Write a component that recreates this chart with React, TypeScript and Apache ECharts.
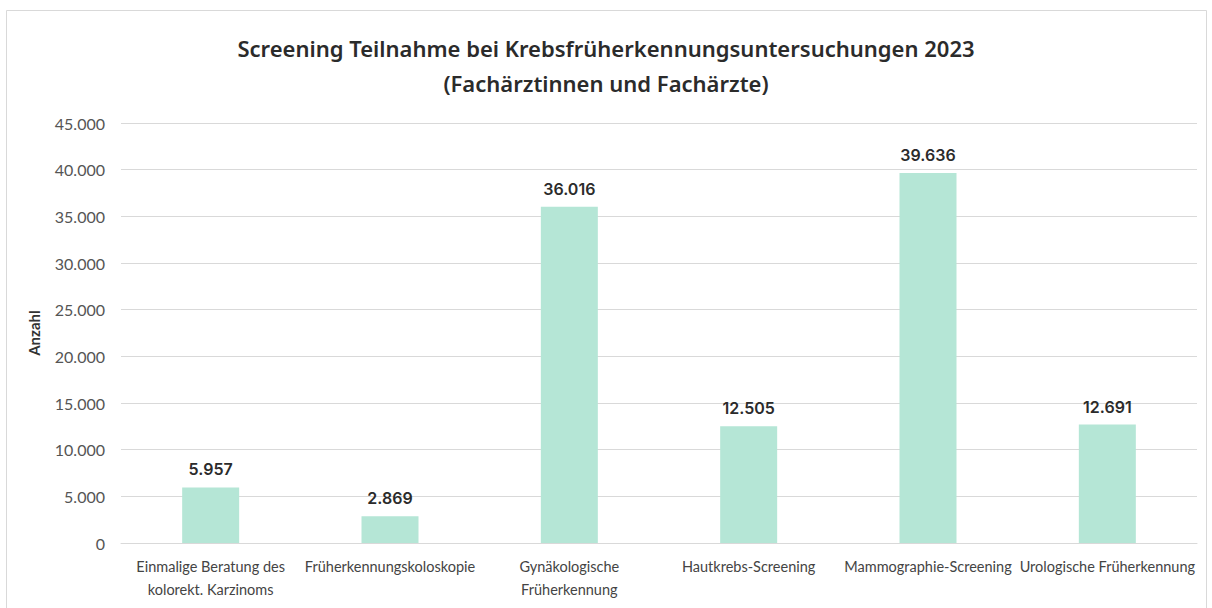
import React, { useEffect, useRef } from "react";
import * as echarts from "echarts";

const categories = [
  "Einmalige Beratung des\nkolorekt. Karzinoms",
  "Früherkennungskoloskopie",
  "Gynäkologische\nFrüherkennung",
  "Hautkrebs-Screening",
  "Mammographie-Screening",
  "Urologische Früherkennung",
];
const values = [5957, 2869, 36016, 12505, 39636, 12691];
const titleText = "Screening Teilnahme bei Krebsfrüherkennungsuntersuchungen 2023\n(Fachärztinnen und Fachärzte)";

const fmt = (v: number) => String(v).replace(/\B(?=(\d{3})+(?!\d))/g, ".");

export default function App() {
  const ref = useRef<HTMLDivElement>(null);
  useEffect(() => {
    document.body.style.margin = "0";
    const chart = echarts.init(ref.current!, null, { renderer: "svg" });
    chart.setOption({
      animation: false,
      backgroundColor: "#ffffff",
      graphic: [
        {
          type: "rect",
          shape: { x: 6.5, y: 10.5, width: 1200, height: 620 },
          style: { fill: "none", stroke: "#d9d9d9", lineWidth: 1 },
          silent: true,
        },
      ],
      title: {
        text: titleText,
        left: "center",
        top: 25,
        textStyle: {
          fontFamily: "Noto Sans",
          fontSize: 22,
          fontWeight: 600,
          color: "#2b2b2b",
          lineHeight: 35,
        },
      },
      grid: { left: 121, right: 15, top: 123, bottom: 65, containLabel: false },
      xAxis: {
        type: "category",
        data: categories,
        axisLine: { show: true, lineStyle: { color: "#d9d9d9" } },
        axisTick: { show: false },
        axisLabel: {
          interval: 0,
          color: "#444",
          fontFamily: "Lato",
          fontSize: 14.5,
          lineHeight: 23,
          margin: 12,
        },
      },
      yAxis: {
        type: "value",
        min: 0,
        max: 45000,
        interval: 5000,
        name: "Anzahl",
        nameLocation: "middle",
        nameGap: 80,
        nameTextStyle: { fontFamily: "Lato", fontWeight: "bold", fontSize: 15, color: "#333" },
        axisLine: { show: false },
        axisTick: { show: false },
        splitLine: { lineStyle: { color: "#d9d9d9", width: 1 } },
        axisLabel: {
          color: "#555",
          fontFamily: "Lato",
          fontSize: 16,
          margin: 16,
          formatter: (v: number) => fmt(v),
        },
      },
      series: [
        {
          type: "bar",
          data: values,
          barWidth: 57,
          itemStyle: { color: "#b5e6d6" },
          label: {
            show: true,
            position: "top",
            distance: 10,
            fontFamily: "Inter",
            fontSize: 16,
            fontWeight: 600,
            color: "#2b2b2b",
            formatter: (p: any) => fmt(p.value),
          },
        },
      ],
    });
    return () => chart.dispose();
  }, []);
  return <div ref={ref} style={{ width: 1212, height: 608, position: "absolute", left: 0, top: 0 }} />;
}
